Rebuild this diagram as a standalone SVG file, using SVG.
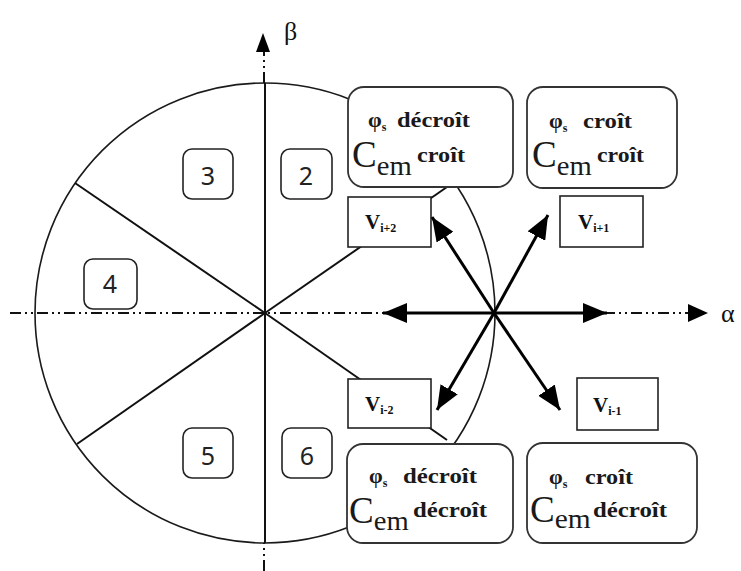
<svg xmlns="http://www.w3.org/2000/svg" width="741" height="571" viewBox="0 0 741 571">
<defs>
<style>
.axis{stroke:#111;stroke-width:2;fill:none;stroke-dasharray:11 4 2 4 2 4}
.thin{stroke:#1a1a1a;stroke-width:1.6;fill:none}
.sec{stroke:#111;stroke-width:2;fill:none}
.lbl{fill:#fff;stroke:#222;stroke-width:1.6}
.vbox{fill:#fff;stroke:#222;stroke-width:1.6}
.cbox{fill:#fff;stroke:#333;stroke-width:1.8}
.dig{font-family:"Noto Sans","DejaVu Sans",sans-serif;font-size:25px;fill:#222;text-anchor:middle}
.greek{font-family:"Liberation Serif","DejaVu Serif",serif;font-size:26px;fill:#111}
.t{font-family:"Liberation Serif","DejaVu Serif",serif;fill:#1a1a1a}
.sm{font-size:22px;font-weight:bold}
.big{font-size:37px}
.em{font-size:28px}
.v{font-family:"Liberation Serif","DejaVu Serif",serif;font-weight:bold;fill:#111;font-size:21px}
.vec{stroke:#000;stroke-width:3;fill:none;marker-end:url(#ah)}
</style>
<marker id="ah" viewBox="0 0 24 20" refX="24" refY="10" markerWidth="24" markerHeight="20" markerUnits="userSpaceOnUse" orient="auto">
<path d="M0,0 L24,10 L0,20 z" fill="#000"/>
</marker>
</defs>
<rect width="741" height="571" fill="#fff"/>

<g id="plane">
<circle class="thin" cx="265" cy="313" r="230"/>
<line class="sec" x1="265" y1="313" x2="75" y2="183"/>
<line class="sec" x1="265" y1="313" x2="77" y2="444"/>
<line class="sec" x1="265" y1="313" x2="447" y2="187"/>
<line class="sec" x1="265" y1="313" x2="447" y2="440"/>
<line class="sec" x1="265" y1="83" x2="265" y2="543"/>
</g>

<g id="axes">
<line class="axis" x1="10" y1="313" x2="690" y2="313"/>
<polygon points="688,304 708,313 688,322" fill="#000"/>
<text class="greek" x="721" y="322">α</text>
<line class="axis" x1="264" y1="571" x2="264" y2="543"/>
<line class="axis" x1="264" y1="83" x2="264" y2="52"/>
<polygon points="256,52 263,33 270,52" fill="#000"/>
<text class="greek" x="284" y="40">β</text>
</g>

<g id="sector-2"><rect class="lbl" x="281" y="149" width="51" height="50" rx="9"/><text class="dig" x="306" y="185">2</text></g>
<g id="sector-3"><rect class="lbl" x="183" y="149" width="50" height="50" rx="9"/><text class="dig" x="208" y="185">3</text></g>
<g id="sector-4"><rect class="lbl" x="84" y="259" width="53" height="50" rx="9"/><text class="dig" x="110" y="293">4</text></g>
<g id="sector-5"><rect class="lbl" x="183" y="428" width="50" height="50" rx="9"/><text class="dig" x="208" y="465">5</text></g>
<g id="sector-6"><rect class="lbl" x="282" y="428" width="50" height="50" rx="9"/><text class="dig" x="307" y="465">6</text></g>

<g id="callout-tl">
<rect class="cbox" x="348" y="87" width="165" height="100" rx="16"/>
<text class="t sm" x="368" y="127">φ<tspan font-size="12" dy="4">s</tspan></text>
<text class="t sm" x="397" y="127" textLength="73" lengthAdjust="spacingAndGlyphs">décroît</text>
<text class="t big" x="352" y="167">C<tspan class="em" dy="8" textLength="35" lengthAdjust="spacingAndGlyphs">em</tspan></text>
<text class="t sm" x="417" y="162" textLength="48" lengthAdjust="spacingAndGlyphs">croît</text>
</g>

<g id="callout-tr">
<rect class="cbox" x="527" y="87" width="150" height="101" rx="16"/>
<text class="t sm" x="549" y="128">φ<tspan font-size="12" dy="4">s</tspan></text>
<text class="t sm" x="583" y="128" textLength="49" lengthAdjust="spacingAndGlyphs">croît</text>
<text class="t big" x="532" y="167">C<tspan class="em" dy="8" textLength="35" lengthAdjust="spacingAndGlyphs">em</tspan></text>
<text class="t sm" x="597" y="162" textLength="47" lengthAdjust="spacingAndGlyphs">croît</text>
</g>

<g id="callout-bl">
<rect class="cbox" x="347" y="444" width="166" height="99" rx="16"/>
<text class="t sm" x="369" y="483">φ<tspan font-size="12" dy="4">s</tspan></text>
<text class="t sm" x="403" y="483" textLength="74" lengthAdjust="spacingAndGlyphs">décroît</text>
<text class="t big" x="349" y="523">C<tspan class="em" dy="7" textLength="35" lengthAdjust="spacingAndGlyphs">em</tspan></text>
<text class="t sm" x="413" y="517" textLength="74" lengthAdjust="spacingAndGlyphs">décroît</text>
</g>

<g id="callout-br">
<rect class="cbox" x="527" y="443" width="170" height="100" rx="16"/>
<text class="t sm" x="549" y="484">φ<tspan font-size="12" dy="4">s</tspan></text>
<text class="t sm" x="585" y="484" textLength="48" lengthAdjust="spacingAndGlyphs">croît</text>
<text class="t big" x="530" y="522">C<tspan class="em" dy="6" textLength="36" lengthAdjust="spacingAndGlyphs">em</tspan></text>
<text class="t sm" x="593" y="517" textLength="74" lengthAdjust="spacingAndGlyphs">décroît</text>
</g>

<g id="v-i+2"><rect class="vbox" x="348" y="197" width="83" height="50"/><text class="v" x="365" y="229">V<tspan font-size="12" dy="3">i+2</tspan></text></g>
<g id="v-i+1"><rect class="vbox" x="560" y="196" width="83" height="51"/><text class="v" x="578" y="229">V<tspan font-size="12" dy="3">i+1</tspan></text></g>
<g id="v-i-2"><rect class="vbox" x="348" y="379" width="83" height="49"/><text class="v" x="365" y="411">V<tspan font-size="12" dy="3">i-2</tspan></text></g>
<g id="v-i-1"><rect class="vbox" x="577" y="378" width="81" height="52"/><text class="v" x="593" y="412">V<tspan font-size="12" dy="3">i-1</tspan></text></g>

<g id="connectors">
<line class="vec" x1="494" y1="313" x2="607" y2="313"/>
<line class="vec" x1="494" y1="313" x2="383" y2="313"/>
<line class="vec" x1="494" y1="313" x2="548" y2="215"/>
<line class="vec" x1="494" y1="313" x2="432" y2="217"/>
<line class="vec" x1="494" y1="313" x2="437" y2="410"/>
<line class="vec" x1="494" y1="313" x2="560" y2="410"/>
</g>
</svg>
